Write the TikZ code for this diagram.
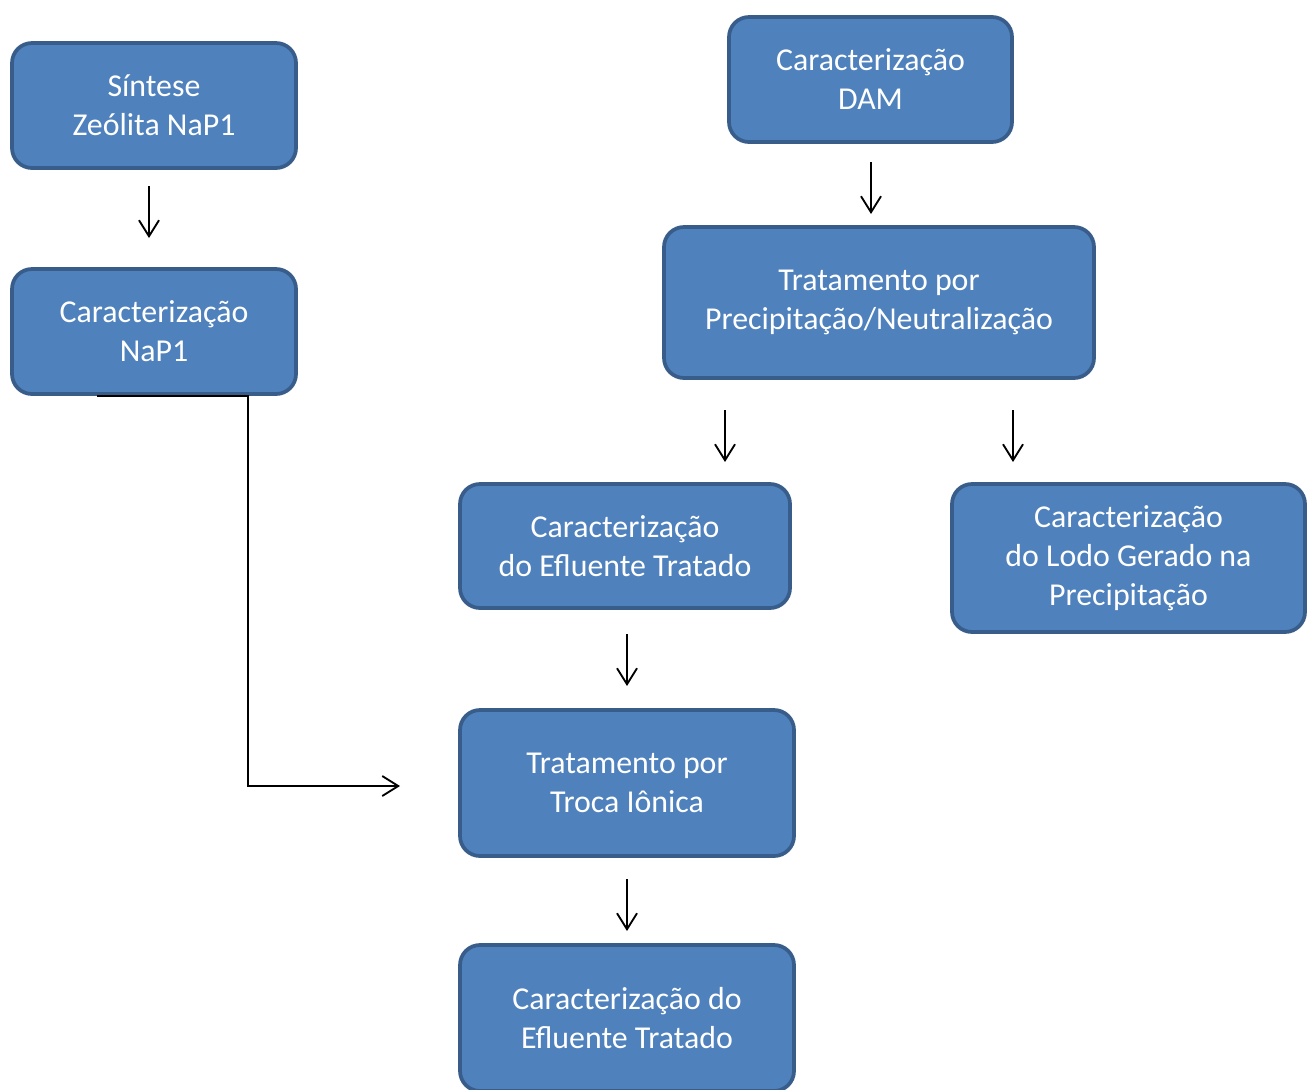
\documentclass[tikz,border=0pt]{standalone}
\usepackage{fontspec}
\setmainfont{Carlito}
\usetikzlibrary{arrows.meta}

\definecolor{boxfill}{HTML}{4F81BD}
\definecolor{boxline}{HTML}{385D8A}

\tikzset{
  stage/.style 2 args={draw=boxline, fill=boxfill, line width=2.8pt,
    rounded corners=15pt, text=white, align=center, inner sep=0pt,
    minimum width=#1*0.75pt, minimum height=#2*0.75pt,
    font=\fontsize{23.9}{29.3}\selectfont},
  flow/.style={line width=1.4pt, -{Straight Barb[length=12pt,width=15pt,line width=1.4pt]}}
}

\begin{document}
\begin{tikzpicture}[x=0.75pt, y=-0.75pt]
		\clip (0,0) rectangle (1309,1089);
		% left column
		\node[stage={284}{125}] (sintese) at (154,105.5) {Síntese\\Zeólita NaP1};
		\node[stage={284}{125}] (carnap) at (154,331.5) {Caracterização\\NaP1};
		% right column
		\node[stage={283}{125}] (cardam) at (870.5,79.5) {Caracterização\\DAM};
		\node[stage={430}{151}] (precip) at (879,302.5) {Tratamento por\\Precipitação/Neutralização};
		\node[stage={330}{124}] (carefl) at (625,546) {Caracterização\\do Efluente Tratado};
		\node[stage={353}{148}] (carlodo) at (1128.5,558) {Caracterização\\do Lodo Gerado na\\Precipitação};
		\node[stage={334}{146}] (troca) at (627,783) {Tratamento por\\Troca Iônica};
		\node[stage={334}{146}] (carfinal) at (627,1018) {Caracterização do\\Efluente Tratado};
		% free arrows between the boxes
		\foreach \n/\x/\ya/\yb in {1/149/186/238, 2/871/162/214, 3/725/410/462,
			4/1013/410/462, 5/627/634/686, 6/627/879/931}
		{
			\coordinate (s\n) at (\x,\ya);
			\coordinate (e\n) at (\x,\yb);
			\draw[flow] (s\n) -- (e\n);
		}
		% zeolite goes to ion exchange
		\coordinate (k0) at (97,396);
		\coordinate (k1) at (248,396);
		\coordinate (k2) at (248,786);
		\coordinate (k3) at (400,786);
		\draw[flow] (k0) -- (k1) -- (k2) -- (k3);
	\end{tikzpicture}
\end{document}
